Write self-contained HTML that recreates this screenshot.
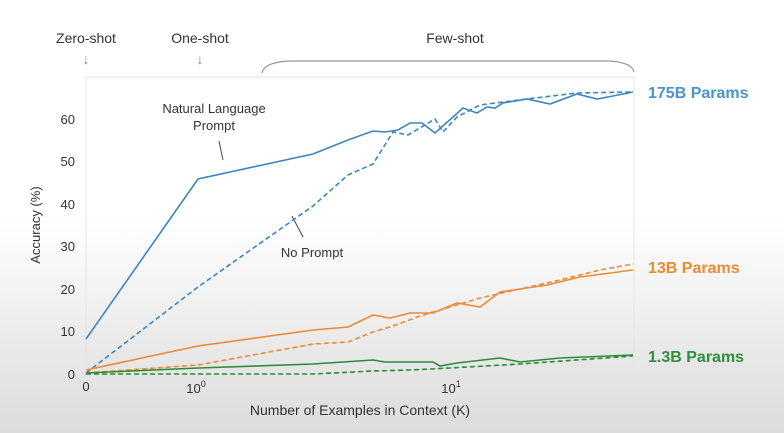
<!DOCTYPE html>
<html><head><style>
html,body{margin:0;padding:0}
body{width:784px;height:433px;overflow:hidden;background:linear-gradient(to bottom,#fff 0px,#fff 220px,#ececec 330px,#dcdcdc 433px);font-family:"Liberation Sans",sans-serif}
</style></head><body>
<svg width="784" height="433" viewBox="0 0 784 433" xmlns="http://www.w3.org/2000/svg" style="position:absolute;left:0;top:0">
<g font-family="Liberation Sans, sans-serif" fill="#333">
<text x="86" y="43" font-size="14" text-anchor="middle">Zero-shot</text>
<text x="200" y="43" font-size="14" text-anchor="middle">One-shot</text>
<text x="455" y="43" font-size="14" text-anchor="middle">Few-shot</text>
<text x="86" y="64" font-size="14" text-anchor="middle" fill="#888">↓</text>
<text x="200" y="64" font-size="14" text-anchor="middle" fill="#888">↓</text>
</g>
<path d="M262,73 Q264,62 290,61 L608,61 Q632,62 634,72" fill="none" stroke="#999" stroke-width="1.2"/>
<rect x="86" y="77" width="548" height="297" fill="none" stroke="#e4e4e4" stroke-width="1"/>
<g font-size="13" fill="#333" text-anchor="end" font-family="Liberation Sans, sans-serif">
<text x="75" y="379">0</text><text x="75" y="336">10</text><text x="75" y="294">20</text><text x="75" y="251">30</text><text x="75" y="209">40</text><text x="75" y="166">50</text><text x="75" y="124">60</text>
</g>
<g font-size="13" fill="#333" text-anchor="middle" font-family="Liberation Sans, sans-serif">
<text x="86" y="391">0</text>
<text x="196" y="393">10<tspan font-size="9" dy="-6">0</tspan></text>
<text x="451" y="393">10<tspan font-size="9" dy="-6">1</tspan></text>
<text x="360" y="415" font-size="14">Number of Examples in Context (K)</text>
<text x="0" y="0" font-size="13" transform="translate(40,225) rotate(-90)">Accuracy (%)</text>
<text x="214" y="113" font-size="13">Natural Language</text>
<text x="214" y="130" font-size="13">Prompt</text>
<text x="312" y="257" font-size="13">No Prompt</text>
</g>
<line x1="219" y1="141" x2="223" y2="160" stroke="#444" stroke-width="1"/>
<line x1="292" y1="216" x2="303" y2="237" stroke="#444" stroke-width="1"/>
<g fill="none" stroke-width="1.6">
<polyline stroke="#3d85bf" points="86,339 198,179 313,154 348,140 373,131 385,132 398,130 410,123 422,123 435,133 463,108 477,113 487,107 495,108 503,103 527,99 550,104 577,94 597,99 613,96 633,92"/>
<polyline stroke="#3d85bf" stroke-dasharray="5,3" points="86,373 198,287 313,206 348,175 373,164 393,132 408,135 435,119 443,132 457,117 480,105 527,99 577,93 633,92"/>
<polyline stroke="#ef8a36" points="86,370 198,346 313,330 348,327 373,315 390,318 410,313 433,313 457,303 480,307 500,292 520,289 547,285 580,277 633,270"/>
<polyline stroke="#ef8a36" stroke-dasharray="5,3" points="86,373 198,365 313,344 348,342 373,332 393,326 420,316 457,305 480,298 520,289 560,280 600,270 633,264"/>
<polyline stroke="#2e8b3a" points="86,373 198,368 313,364 373,360 385,362 410,362 433,362 440,366 457,363 500,358 520,362 560,358 633,355"/>
<polyline stroke="#2e8b3a" stroke-dasharray="5,3" points="86,374 313,374 373,371 410,370 450,368 520,364 633,356"/>
</g>
<g font-size="16" font-weight="bold" font-family="Liberation Sans, sans-serif">
<text x="648" y="98" fill="#4a93cc">175B Params</text>
<text x="648" y="273" fill="#f08a30">13B Params</text>
<text x="648" y="362" fill="#2f8f3a">1.3B Params</text>
</g>
</svg>
</body></html>
